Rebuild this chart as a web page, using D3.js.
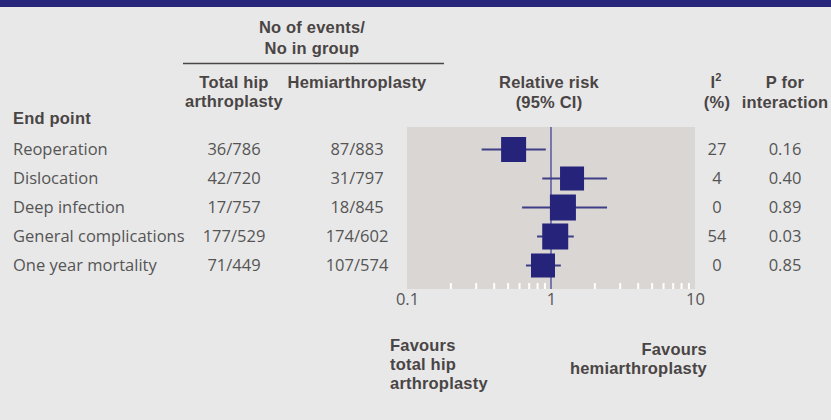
<!DOCTYPE html>
<html>
<head>
<meta charset="utf-8">
<script src="https://cdn.jsdelivr.net/npm/d3@7/dist/d3.min.js"></script>
<style>
  html, body { margin: 0; padding: 0; background: #e8e8e8; }
  svg { display: block; }
  .hd { font-family: "Liberation Sans", Arial, sans-serif; font-weight: 700; font-size: 16.5px; letter-spacing: 0.2px; fill: #4a4545; }
  .bd { font-family: "Open Sans", sans-serif; font-weight: 400; font-size: 16.5px; fill: #555555; }
</style>
</head>
<body>
<svg id="chart" width="831" height="420"></svg>
<script>
// ---------- data ----------
const endpoints = ["Reoperation", "Dislocation", "Deep infection", "General complications", "One year mortality"];
const thaEvents = [36, 42, 17, 177, 71];
const thaTotal  = [786, 720, 757, 529, 449];
const haEvents  = [87, 31, 18, 174, 107];
const haTotal   = [883, 797, 845, 602, 574];
const rr        = [0.55, 1.40, 1.21, 1.07, 0.88];
const ciLow     = [0.33, 0.87, 0.63, 0.80, 0.67];
const ciHigh    = [0.92, 2.45, 2.45, 1.44, 1.17];
const weight    = [25, 24, 26, 26, 24];
const i2        = [27, 4, 0, 54, 0];
const pInteraction = ["0.16", "0.40", "0.89", "0.03", "0.85"];
const majorTicks = [0.1, 1, 10];
const tickLabels = ["0.1", "1", "10"];
const minorTicks = [0.2, 0.3, 0.4, 0.5, 0.6, 0.7, 0.8, 0.9, 2, 3, 4, 5, 6, 7, 8, 9];

// ---------- layout ----------
const svg = d3.select("#chart");
const W = 831, H = 420;
const panel = { x0: 407, x1: 695, y0: 127, y1: 289 };

svg.append("rect").attr("x", 0).attr("y", 0).attr("width", W).attr("height", H).attr("fill", "#e8e8e8");
svg.append("rect").attr("x", 0).attr("y", 0).attr("width", W).attr("height", 7).attr("fill", "#27267a");

const x = d3.scaleLog().domain([0.1, 10]).range([panel.x0, panel.x1]);
const y = d3.scalePoint().domain(endpoints).range([149.5, 265.5]);
const size = d3.scaleLinear().domain([0, 26]).range([0, 26]);

const rows = endpoints.map((e, i) => ({
  name: e, tha: thaEvents[i] + "/" + thaTotal[i], ha: haEvents[i] + "/" + haTotal[i],
  rr: rr[i], lo: ciLow[i], hi: ciHigh[i], w: weight[i], i2: i2[i], p: pInteraction[i]
}));

// panel background
svg.append("rect")
  .attr("x", panel.x0).attr("y", panel.y0)
  .attr("width", panel.x1 - panel.x0).attr("height", panel.y1 - panel.y0)
  .attr("fill", "#d9d6d3");

// minor ticks (white, inside panel)
const minorAxis = d3.axisBottom(x).tickValues(minorTicks).tickSizeInner(-6).tickSizeOuter(0).tickFormat("");
const gMinor = svg.append("g").attr("transform", `translate(0,${panel.y1})`).call(minorAxis);
gMinor.select(".domain").remove();
gMinor.selectAll(".tick line").attr("stroke", "#ffffff").attr("stroke-width", 2);

// major tick labels
const majorAxis = d3.axisBottom(x).tickValues(majorTicks).tickSize(0).tickPadding(0)
  .tickFormat((d, i) => tickLabels[i]);
const gMajor = svg.append("g").attr("transform", `translate(0,${panel.y1})`).call(majorAxis);
gMajor.select(".domain").remove();
gMajor.selectAll(".tick text").attr("y", 16).attr("dy", 0)
  .style("font-family", "'Open Sans', sans-serif").style("font-size", "16.5px").attr("fill", "#555555");

// reference line at 1
svg.append("line")
  .attr("x1", x(1)).attr("x2", x(1)).attr("y1", panel.y0).attr("y2", panel.y1)
  .attr("stroke", "#7777ad").attr("stroke-width", 2);

// CI lines
svg.append("g").selectAll("line").data(rows).join("line")
  .attr("x1", d => x(d.lo)).attr("x2", d => x(d.hi))
  .attr("y1", d => y(d.name)).attr("y2", d => y(d.name))
  .attr("stroke", "#3f3e86").attr("stroke-width", 1.8);

// boxes
svg.append("g").selectAll("rect").data(rows).join("rect")
  .attr("x", d => x(d.rr) - size(d.w) / 2)
  .attr("y", d => y(d.name) - size(d.w) / 2)
  .attr("width", d => size(d.w)).attr("height", d => size(d.w))
  .attr("fill", "#25237a");

// ---------- table text ----------
const tbl = svg.append("g");
const col = { name: 13, tha: 234, ha: 357, i2: 717, p: 785 };

tbl.selectAll("text.nm").data(rows).join("text").attr("class", "bd nm")
  .attr("x", col.name).attr("y", d => y(d.name) + 5.5).text(d => d.name);
tbl.selectAll("text.tha").data(rows).join("text").attr("class", "bd tha")
  .attr("x", col.tha).attr("y", d => y(d.name) + 5.5).attr("text-anchor", "middle").text(d => d.tha);
tbl.selectAll("text.ha").data(rows).join("text").attr("class", "bd ha")
  .attr("x", col.ha).attr("y", d => y(d.name) + 5.5).attr("text-anchor", "middle").text(d => d.ha);
tbl.selectAll("text.i2").data(rows).join("text").attr("class", "bd i2")
  .attr("x", col.i2).attr("y", d => y(d.name) + 5.5).attr("text-anchor", "middle").text(d => d.i2);
tbl.selectAll("text.p").data(rows).join("text").attr("class", "bd p")
  .attr("x", col.p).attr("y", d => y(d.name) + 5.5).attr("text-anchor", "middle").text(d => d.p);

// ---------- headers ----------
function hd(txt, xx, yy, anchor) {
  return svg.append("text").attr("class", "hd").attr("x", xx).attr("y", yy)
    .attr("text-anchor", anchor || "middle").text(txt);
}
hd("No of events/", 312, 32.5);
hd("No in group", 312, 53.5);
svg.append("line").attr("x1", 183).attr("x2", 444).attr("y1", 63.5).attr("y2", 63.5)
  .attr("stroke", "#4a4545").attr("stroke-width", 1.5);
hd("Total hip", 234, 87.5);
hd("arthroplasty", 234, 106.5);
hd("Hemiarthroplasty", 357, 87.5);
hd("Relative risk", 549, 87.5);
hd("(95% CI)", 549, 107.5);
const i2t = hd("I", 716, 87.5);
i2t.append("tspan").attr("dy", -6.5).attr("font-size", "11px").text("2");
hd("(%)", 717, 107.5);
hd("P for", 785, 87.5);
hd("interaction", 785, 107.5);
hd("End point", 13, 124, "start");

// favour labels
hd("Favours", 390, 350.5, "start");
hd("total hip", 390, 369.5, "start");
hd("arthroplasty", 390, 388.5, "start");
hd("Favours", 707, 355, "end");
hd("hemiarthroplasty", 707, 374, "end");
</script>
</body>
</html>
